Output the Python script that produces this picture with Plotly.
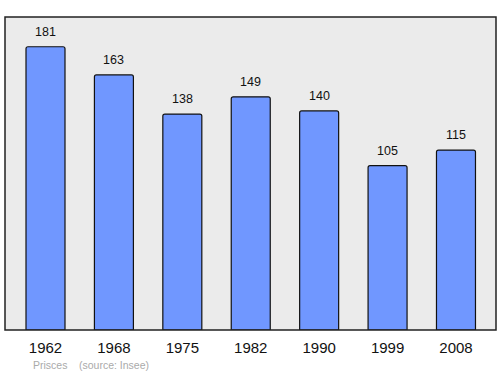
import plotly.graph_objects as go

years = ["1962", "1968", "1975", "1982", "1990", "1999", "2008"]
population = [181, 163, 138, 149, 140, 105, 115]
commune = "Prisces"
source = "(source: Insee)"

fig = go.Figure()
fig.add_trace(go.Bar(
    x=list(range(len(years))), y=population,
    width=0.57,
    marker=dict(color="#7097ff", line=dict(color="#111111", width=1.2), cornerradius=2),
    hoverinfo="skip",
))

for i, v in enumerate(population):
    fig.add_annotation(x=i, y=v, text=str(v), showarrow=False, yshift=15,
                       font=dict(family="Liberation Sans, Arial", size=12.5, color="#111111"))

fig.add_shape(type="rect", xref="paper", yref="paper", x0=0, y0=0, x1=1, y1=1,
              line=dict(color="#222222", width=1.5), layer="above")

fig.add_annotation(xref="paper", yref="paper", x=(31-5)/491, y=-(365-330)/313,
                   xanchor="left", yanchor="middle", showarrow=False, text=commune,
                   font=dict(family="Liberation Sans, Arial", size=10.5, color="#aaaaaa"))
fig.add_annotation(xref="paper", yref="paper", x=(77-5)/491, y=-(365-330)/313,
                   xanchor="left", yanchor="middle", showarrow=False, text=source,
                   font=dict(family="Liberation Sans, Arial", size=10.5, color="#aaaaaa"))

fig.update_layout(
    width=500, height=374,
    margin=dict(l=5, r=4, t=17, b=44),
    paper_bgcolor="white", plot_bgcolor="#ebebeb",
    showlegend=False,
    xaxis=dict(range=[-0.592, 6.585], showgrid=False, zeroline=False,
               tickmode="array", tickvals=list(range(len(years))), ticktext=years,
               ticks="", ticklabelstandoff=7,
               tickfont=dict(family="Liberation Sans, Arial", size=15, color="#111111"),
               fixedrange=True),
    yaxis=dict(range=[0, 200], showgrid=False, zeroline=False, showticklabels=False,
               ticks="", fixedrange=True),
)

fig.write_html("out.html")
